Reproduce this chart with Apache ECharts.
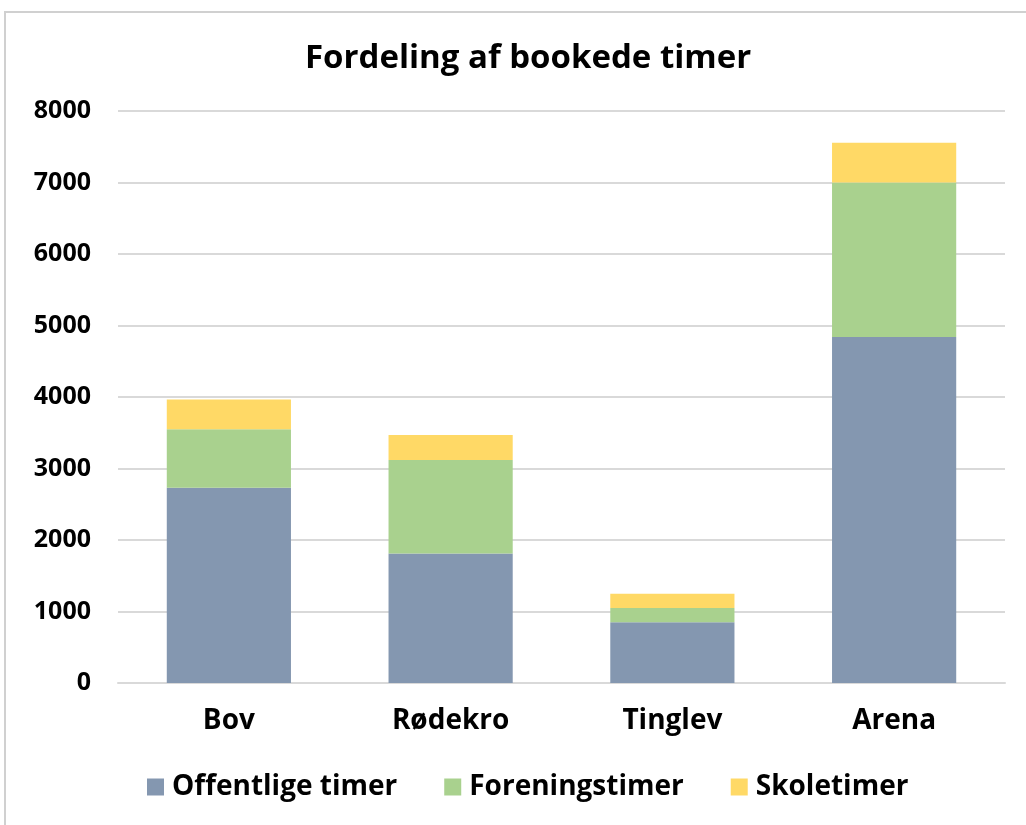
<!DOCTYPE html>
<html>
<head>
<meta charset="utf-8">
<script src="https://cdn.jsdelivr.net/npm/echarts@6/dist/echarts.min.js"></script>
<style>
  html, body { margin: 0; padding: 0; background: #fff; }
  #frame { position: absolute; left: 4px; top: 11px; width: 1030px; height: 830px; border: 2px solid #d0d0d0; box-sizing: border-box; }
  #chart { position: absolute; left: 0; top: 0; width: 1026px; height: 825px; }
</style>
</head>
<body>
<div id="frame"></div>
<div id="chart"></div>
<script>
var categories = ['Bov', 'Rødekro', 'Tinglev', 'Arena'];
var offentlige = [2730, 1810, 850, 4840];
var forening = [820, 1310, 200, 2160];
var skole = [415, 350, 200, 555];
var yTicks = [0, 8000, 1000];

var font = '"Open Sans", sans-serif';
var chart = echarts.init(document.getElementById('chart'));
chart.setOption({
  animation: false,
  title: {
    text: 'Fordeling af bookede timer',
    left: 300,
    top: 37,
    textStyle: { fontFamily: font, fontSize: 33, fontWeight: 'bold', color: '#000' }
  },
  legend: {
    bottom: 19,
    left: 142,
    itemWidth: 17,
    itemHeight: 17,
    itemGap: 47,
    icon: 'rect',
    textStyle: { fontFamily: font, fontSize: 28, fontWeight: 'bold', color: '#000', padding: [0, 0, 0, 3] },
    data: ['Offentlige timer', 'Foreningstimer', 'Skoletimer']
  },
  grid: { left: 118, right: 21, top: 111, bottom: 142 },
  xAxis: {
    type: 'category',
    data: categories,
    axisTick: { show: false },
    axisLine: { lineStyle: { color: '#d9d9d9', width: 2 } },
    axisLabel: { margin: 24, fontFamily: font, fontSize: 28, fontWeight: 'bold', color: '#000' }
  },
  yAxis: {
    type: 'value',
    min: yTicks[0],
    max: yTicks[1],
    interval: yTicks[2],
    axisLine: { show: false },
    axisTick: { show: false },
    splitLine: { lineStyle: { color: '#d9d9d9', width: 2 } },
    axisLabel: {
      margin: 27, fontFamily: font, fontSize: 25, fontWeight: 'bold', color: '#000',
      formatter: function (v) { return String(v); }
    }
  },
  series: [
    { name: 'Offentlige timer', type: 'bar', stack: 'total', barWidth: '56%', data: offentlige, itemStyle: { color: '#8497b0' } },
    { name: 'Foreningstimer', type: 'bar', stack: 'total', data: forening, itemStyle: { color: '#a9d18e' } },
    { name: 'Skoletimer', type: 'bar', stack: 'total', data: skole, itemStyle: { color: '#ffd966' } }
  ]
});
</script>
</body>
</html>
